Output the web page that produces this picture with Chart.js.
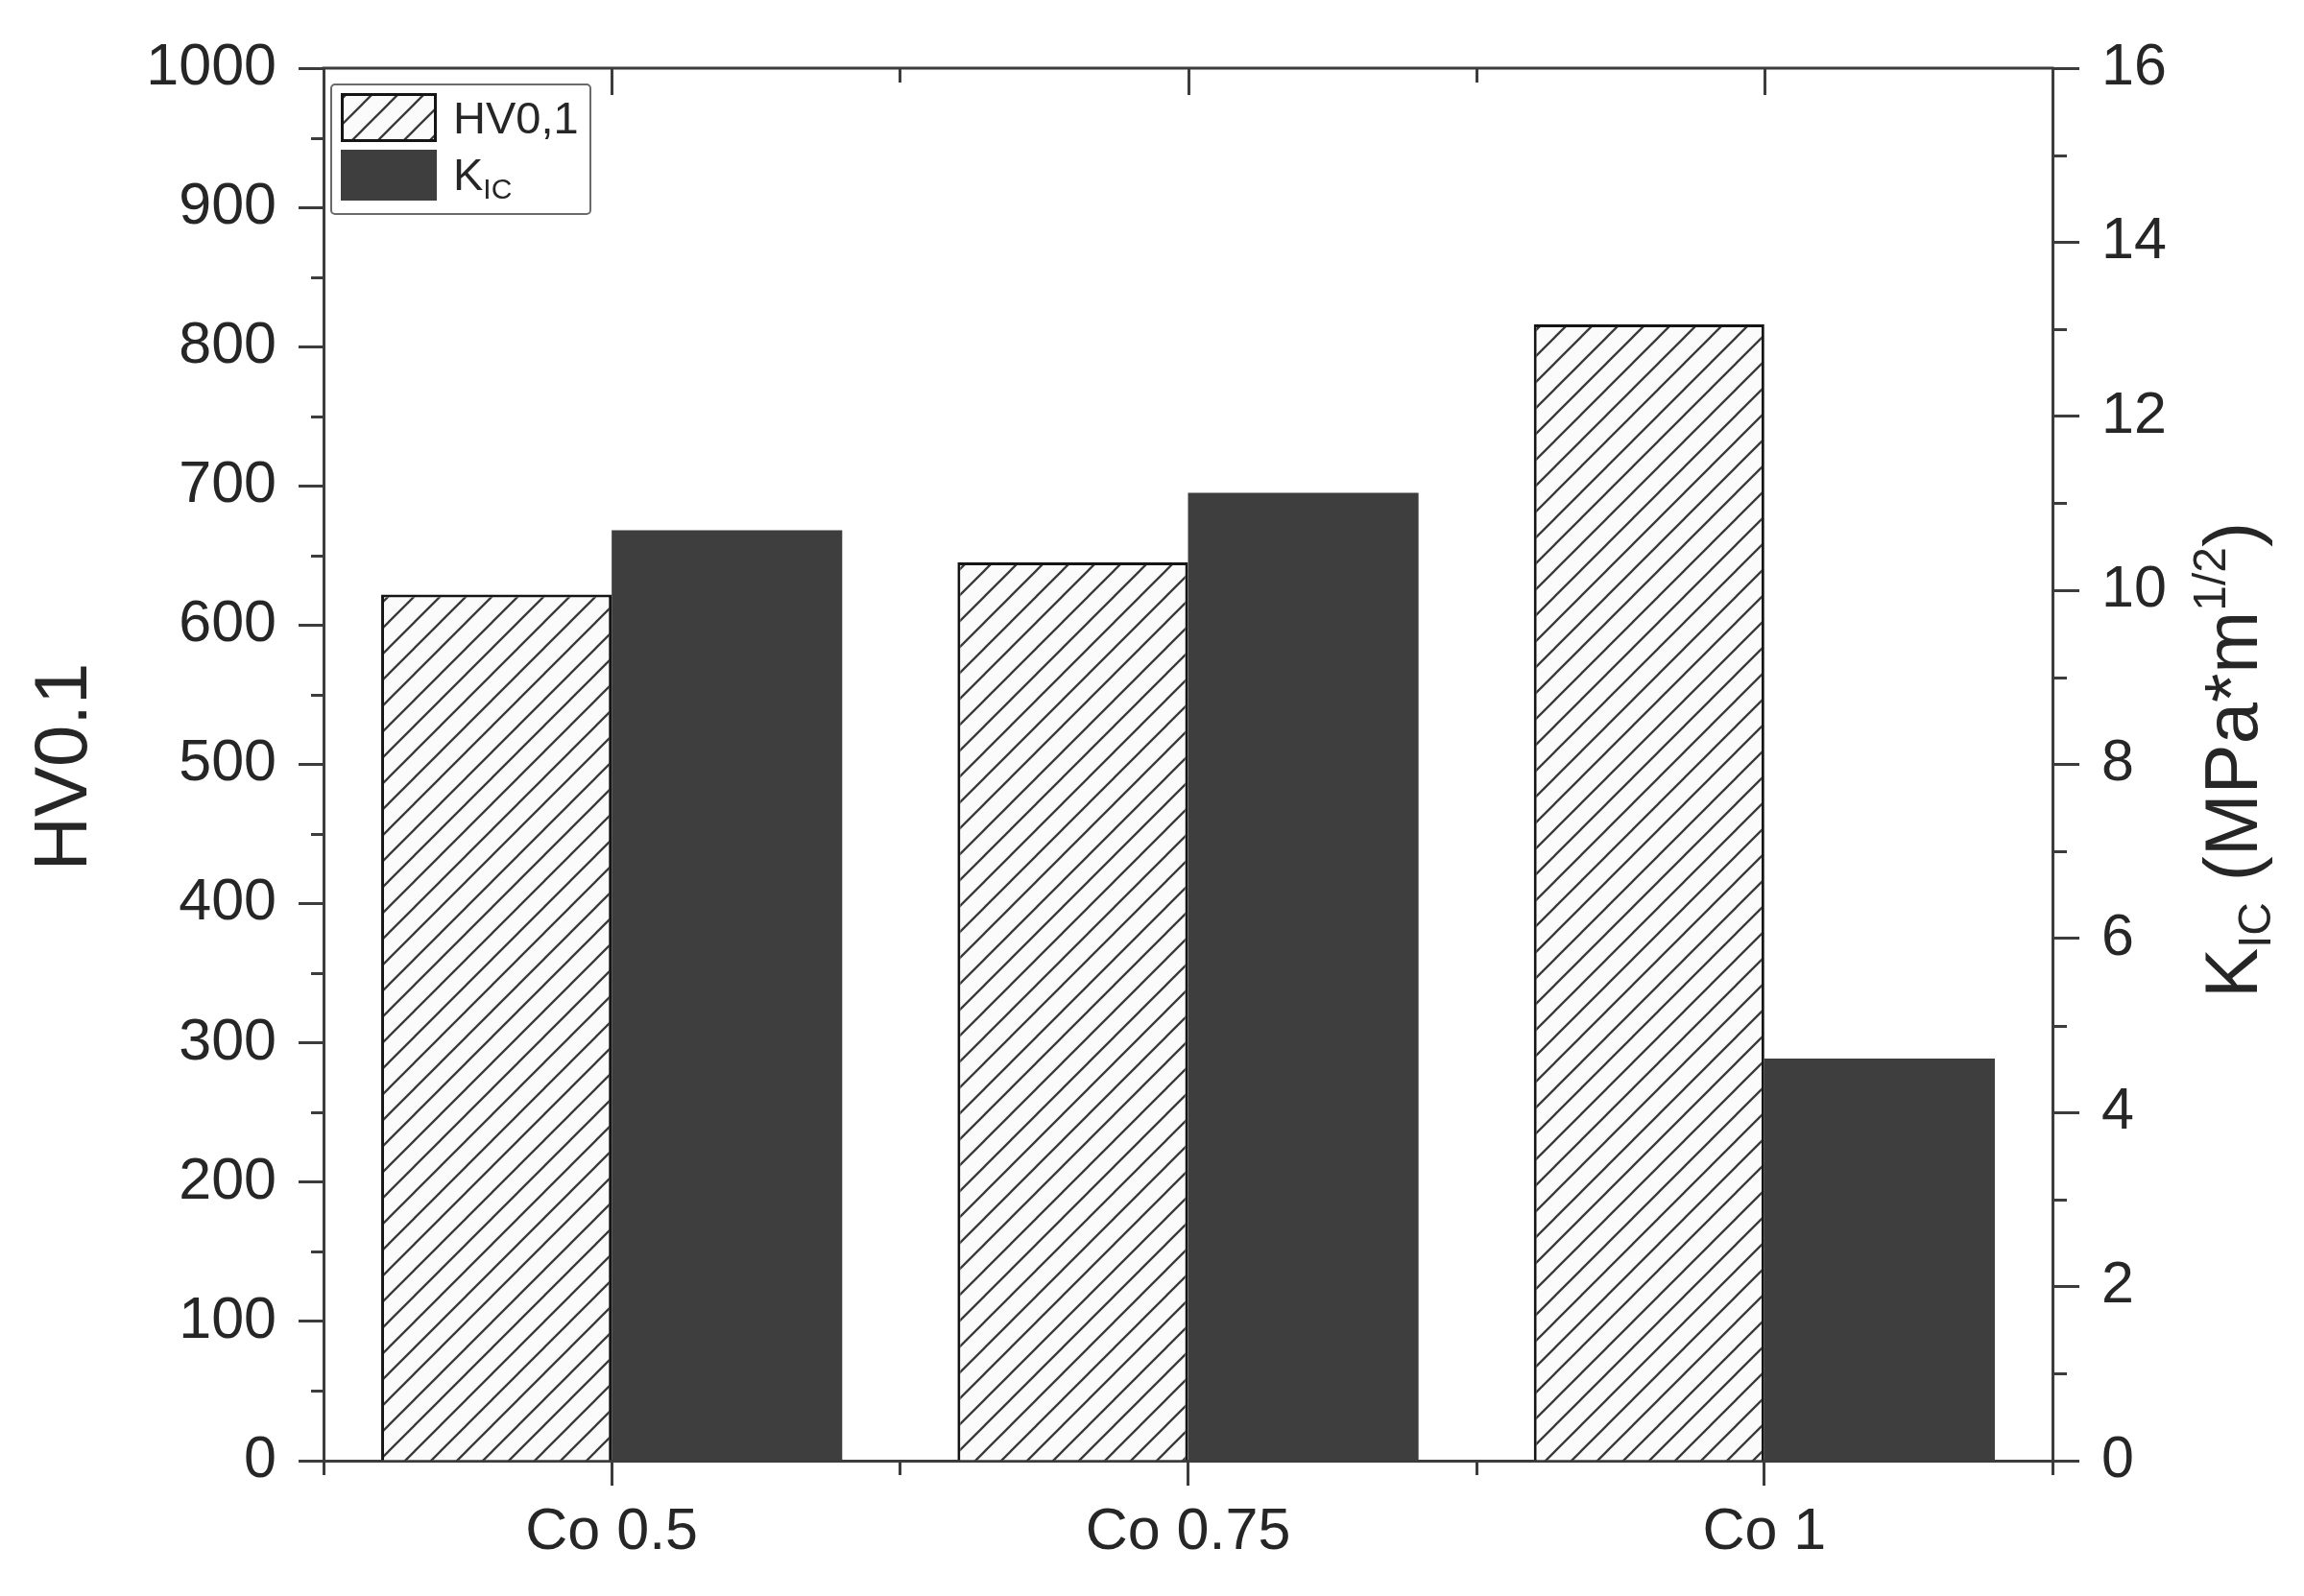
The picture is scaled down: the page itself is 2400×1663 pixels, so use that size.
<!DOCTYPE html>
<html><head><meta charset="utf-8">
<script src="https://cdn.jsdelivr.net/npm/chart.js@4.4.1/dist/chart.umd.min.js"></script>
<style>html,body{margin:0;padding:0;background:#fff;overflow:hidden}#wrap{width:2400px;height:1663px;position:relative}</style>
</head><body><div id="wrap"><canvas id="c" width="2400" height="1663"></canvas></div>
<script>
// ---- data ----
const categories = ['Co 0.5', 'Co 0.75', 'Co 1'];
const hvValues = [622, 645, 816];
const kicValues = [10.69, 11.12, 4.62];
const seriesNames = ['HV0,1', 'K_IC'];
const leftTitle = 'HV0.1';
const rightTitleParts = [['K', ''], ['IC', 'sub'], [' (MPa*m', ''], ['1/2', 'sup'], [')', '']];
const hvRange = [0, 1000, 100];
const kicRange = [0, 16, 2];

// ---- style ----
const FONT = "'Liberation Sans', Arial, Helvetica, sans-serif";
const AXIS = '#3c3c3c';
const TEXT = '#262626';
const DARK = '#3e3e3e';

const canvas = document.getElementById('c');
const ctx = canvas.getContext('2d');

function makeHatch() {
  const s = 27;
  const c = document.createElement('canvas');
  c.width = s; c.height = s;
  const g = c.getContext('2d');
  g.fillStyle = '#fbfbfb'; g.fillRect(0, 0, s, s);
  g.strokeStyle = '#3a3a3a'; g.lineWidth = 2.3;
  g.beginPath();
  g.moveTo(-3, s + 3); g.lineTo(s + 3, -3);
  g.moveTo(-3, 3); g.lineTo(3, -3);
  g.moveTo(s - 3, s + 3); g.lineTo(s + 3, s - 3);
  g.stroke();
  return ctx.createPattern(c, 'repeat');
}
const hatch = makeHatch();

function drawRich(c, parts, x, y, mainSize, subSize, align) {
  const widths = parts.map(([t, k]) => { c.font = (k ? subSize : mainSize) + 'px ' + FONT; return c.measureText(t).width; });
  const total = widths.reduce((a, b) => a + b, 0);
  let cx = align === 'center' ? x - total / 2 : x;
  c.textAlign = 'left'; c.textBaseline = 'alphabetic';
  parts.forEach(([t, k], i) => {
    c.font = (k ? subSize : mainSize) + 'px ' + FONT;
    let dy = 0;
    if (k === 'sub') dy = subSize * 0.3;
    if (k === 'sup') dy = -mainSize * 0.42;
    c.fillText(t, cx, y + dy);
    cx += widths[i];
  });
}
function parseLabel(s) {
  const i = s.indexOf('_');
  return i < 0 ? [[s, '']] : [[s.slice(0, i), ''], [s.slice(i + 1), 'sub']];
}

const decor = {
  id: 'decor',
  afterDraw(chart) {
    const c = chart.ctx, a = chart.chartArea, sc = chart.scales;
    c.save();
    c.strokeStyle = AXIS; c.lineWidth = 3; c.lineCap = 'butt';
    const ln = (x1, y1, x2, y2) => { c.beginPath(); c.moveTo(x1, y1); c.lineTo(x2, y2); c.stroke(); };
    // top frame
    ln(a.left - 1.5, a.top, a.right + 1.5, a.top);
    // minor ticks left
    for (let v = hvRange[0] + hvRange[2] / 2; v < hvRange[1]; v += hvRange[2]) {
      const y = Math.round(sc.y.getPixelForValue(v)) + 0.5; ln(a.left - 13, y, a.left, y);
    }
    // minor ticks right
    for (let v = kicRange[0] + kicRange[2] / 2; v < kicRange[1]; v += kicRange[2]) {
      const y = Math.round(sc.y1.getPixelForValue(v)) + 0.5; ln(a.right, y, a.right + 15, y);
    }
    // x minor ticks (bottom outward, top inward) and top major ticks inward
    for (let i = 0; i <= categories.length; i++) {
      const x = Math.round(sc.x.getPixelForValue(i - 0.5)) + 0.5;
      ln(x, a.bottom, x, a.bottom + 15);
      ln(x, a.top, x, a.top + 15);
    }
    for (let i = 0; i < categories.length; i++) {
      const x = Math.round(sc.x.getPixelForValue(i)) + 0.5;
      ln(x, a.top, x, a.top + 28);
    }
    // legend
    c.strokeStyle = '#6a6a6a'; c.lineWidth = 2;
    c.beginPath(); c.roundRect(345, 88, 270, 135, 4); c.stroke();
    const ds = chart.data.datasets;
    c.fillStyle = ds[0].backgroundColor; c.fillRect(355, 97, 100, 51);
    c.strokeStyle = ds[0].borderColor; c.lineWidth = 3; c.strokeRect(356.5, 98.5, 97, 48);
    c.fillStyle = ds[1].backgroundColor; c.fillRect(355, 156, 100, 53);
    c.fillStyle = TEXT;
    drawRich(c, parseLabel(ds[0].label), 472, 139, 47, 30, 'left');
    drawRich(c, parseLabel(ds[1].label), 472, 198, 47, 30, 'left');
    // axis titles
    c.fillStyle = TEXT;
    c.save(); c.translate(90, 799); c.rotate(-Math.PI / 2);
    c.font = '78px ' + FONT; c.textAlign = 'center'; c.textBaseline = 'alphabetic';
    c.fillText(leftTitle, 0, 0); c.restore();
    c.save(); c.translate(2351, 792); c.rotate(-Math.PI / 2);
    drawRich(c, rightTitleParts, 0, 0, 78, 48, 'center'); c.restore();
    c.restore();
  }
};

const tickFont = { family: FONT, size: 61 };
const plainNum = v => String(v);
new Chart(ctx, {
  type: 'bar',
  data: {
    labels: categories,
    datasets: [
      { label: seriesNames[0], data: hvValues, yAxisID: 'y', backgroundColor: hatch, borderColor: '#151515', borderWidth: 3,
        categoryPercentage: 0.8, barPercentage: 1.0 },
      { label: seriesNames[1], data: kicValues, yAxisID: 'y1', backgroundColor: DARK, borderColor: DARK, borderWidth: 0,
        categoryPercentage: 0.8, barPercentage: 1.0 }
    ]
  },
  options: {
    responsive: false, animation: false, devicePixelRatio: 1,
    layout: { padding: { top: 71, left: 0, right: 0, bottom: 0 } },
    plugins: { legend: { display: false }, tooltip: { enabled: false } },
    scales: {
      x: {
        offset: true,
        grid: { display: true, drawOnChartArea: false, drawTicks: true, tickLength: 26, tickWidth: 3, tickColor: AXIS, offset: false },
        border: { display: true, color: AXIS, width: 3 },
        ticks: { font: tickFont, color: TEXT, padding: 13, maxRotation: 0 },
        afterFit(s) { s.height = 141; }
      },
      y: {
        position: 'left', min: hvRange[0], max: hvRange[1],
        grid: { display: true, drawOnChartArea: false, drawTicks: true, tickLength: 26, tickWidth: 3, tickColor: AXIS },
        border: { display: true, color: AXIS, width: 3 },
        ticks: { stepSize: hvRange[2], font: tickFont, color: TEXT, padding: 23, callback: plainNum },
        afterFit(s) { s.width = 337; }
      },
      y1: {
        position: 'right', min: kicRange[0], max: kicRange[1],
        grid: { display: true, drawOnChartArea: false, drawTicks: true, tickLength: 28, tickWidth: 3, tickColor: AXIS },
        border: { display: true, color: AXIS, width: 3 },
        ticks: { stepSize: kicRange[2], font: tickFont, color: TEXT, padding: 23, callback: plainNum },
        afterFit(s) { s.width = 262; }
      }
    }
  },
  plugins: [decor]
});
</script>
</body></html>
